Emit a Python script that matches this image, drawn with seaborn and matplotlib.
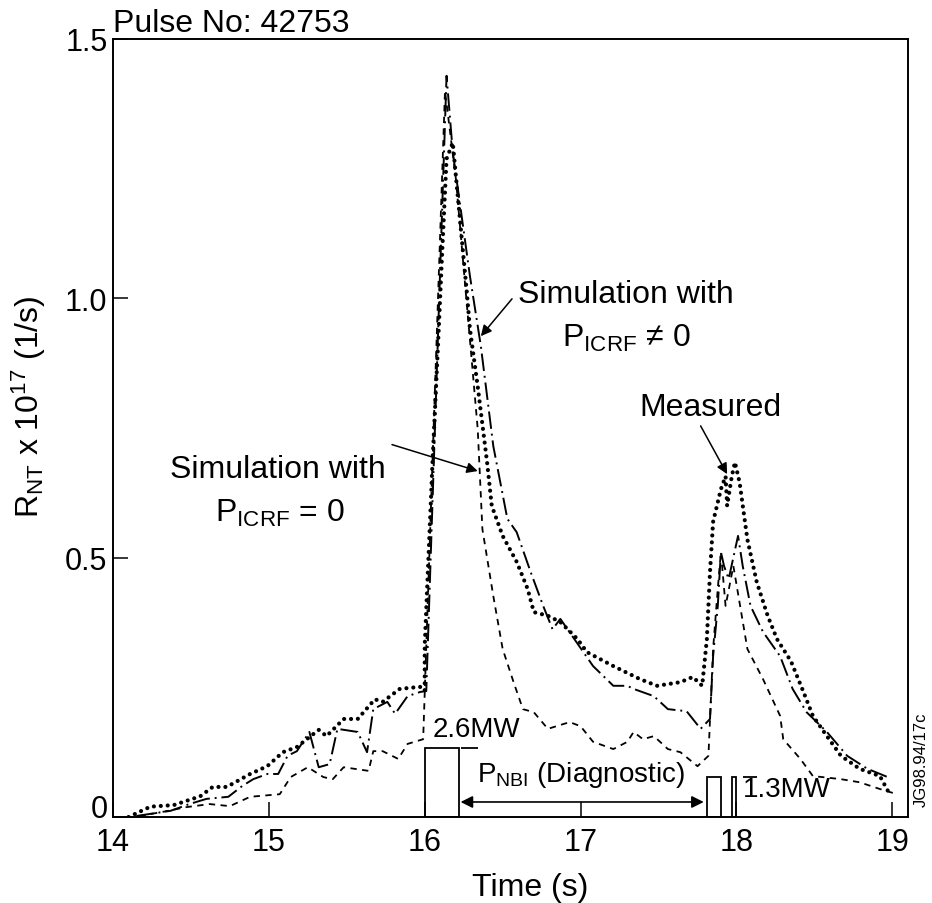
import matplotlib
matplotlib.use('Agg')
import matplotlib.pyplot as plt
import seaborn as sns

# Measured neutron rate (dotted)
meas_t = [14.10, 14.24, 14.39, 14.56, 14.64, 14.73, 14.88, 14.99, 15.09, 15.18,
          15.26, 15.32, 15.37, 15.48, 15.57, 15.68, 15.73, 15.84, 15.97, 16.00,
          16.00, 16.05, 16.09, 16.11, 16.14, 16.18, 16.23, 16.27, 16.29, 16.34,
          16.40, 16.43, 16.50, 16.59, 16.66, 16.70, 16.79, 16.87, 16.98, 17.04,
          17.21, 17.38, 17.49, 17.64, 17.72, 17.78, 17.81, 17.83, 17.85, 17.90,
          17.93, 17.94, 17.97, 17.99, 18.02, 18.07, 18.13, 18.20, 18.26, 18.35,
          18.43, 18.49, 18.58, 18.67, 18.79, 18.92, 18.99]
meas_v = [0.000, 0.020, 0.023, 0.040, 0.058, 0.058, 0.083, 0.098, 0.125, 0.135,
          0.154, 0.168, 0.156, 0.189, 0.189, 0.227, 0.222, 0.247, 0.251, 0.243,
          0.330, 0.684, 0.941, 1.076, 1.269, 1.300, 1.139, 1.012, 0.941, 0.830,
          0.684, 0.600, 0.542, 0.492, 0.440, 0.395, 0.388, 0.376, 0.343, 0.318,
          0.291, 0.266, 0.253, 0.260, 0.270, 0.253, 0.343, 0.472, 0.569, 0.632,
          0.657, 0.600, 0.657, 0.684, 0.645, 0.535, 0.453, 0.388, 0.343, 0.300,
          0.241, 0.195, 0.156, 0.118, 0.093, 0.079, 0.040]

# Simulation with P_ICRF != 0 (dash-dot)
icrf_t = [14.15, 14.37, 14.49, 14.60, 14.74, 14.83, 14.90, 14.99, 15.06, 15.12,
          15.18, 15.26, 15.32, 15.39, 15.44, 15.57, 15.63, 15.67, 15.76, 15.81,
          15.89, 15.97, 16.01, 16.14, 16.18, 16.29, 16.36, 16.44, 16.53, 16.59,
          16.68, 16.76, 16.82, 16.87, 17.08, 17.21, 17.30, 17.34, 17.47, 17.56,
          17.68, 17.77, 17.83, 17.85, 17.88, 17.90, 17.92, 17.95, 18.01, 18.04,
          18.09, 18.17, 18.28, 18.36, 18.45, 18.58, 18.71, 18.84, 18.97]
icrf_v = [0.002, 0.012, 0.025, 0.035, 0.039, 0.060, 0.073, 0.083, 0.083, 0.118,
          0.127, 0.164, 0.096, 0.102, 0.170, 0.164, 0.125, 0.208, 0.222, 0.199,
          0.233, 0.241, 0.243, 1.429, 1.282, 1.043, 0.908, 0.715, 0.575, 0.549,
          0.472, 0.407, 0.362, 0.382, 0.291, 0.253, 0.253, 0.247, 0.233, 0.208,
          0.204, 0.170, 0.189, 0.310, 0.407, 0.511, 0.484, 0.459, 0.542, 0.484,
          0.407, 0.357, 0.310, 0.247, 0.202, 0.164, 0.118, 0.093, 0.077]

# Simulation with P_ICRF = 0 (dashed)
noicrf_t = [14.17, 14.32, 14.47, 14.62, 14.75, 14.88, 15.07, 15.14, 15.25, 15.35,
            15.41, 15.48, 15.64, 15.67, 15.73, 15.83, 15.89, 15.99, 16.13, 16.20,
            16.29, 16.34, 16.37, 16.44, 16.50, 16.57, 16.63, 16.70, 16.79, 16.93,
            17.00, 17.08, 17.21, 17.30, 17.34, 17.40, 17.47, 17.56, 17.64, 17.75,
            17.82, 17.85, 17.88, 17.90, 17.93, 17.98, 18.07, 18.17, 18.28, 18.30,
            18.41, 18.49, 18.67, 18.79, 18.92, 19.03]
noicrf_v = [0.002, 0.010, 0.019, 0.025, 0.021, 0.039, 0.044, 0.077, 0.096, 0.077,
            0.073, 0.096, 0.089, 0.127, 0.127, 0.112, 0.141, 0.150, 1.400, 1.230,
            0.920, 0.748, 0.555, 0.426, 0.324, 0.260, 0.208, 0.202, 0.170, 0.183,
            0.175, 0.145, 0.131, 0.145, 0.164, 0.150, 0.156, 0.131, 0.125, 0.098,
            0.118, 0.324, 0.440, 0.511, 0.407, 0.484, 0.324, 0.266, 0.195, 0.150,
            0.112, 0.079, 0.073, 0.067, 0.054, 0.044]

# diagnostic NBI pulses
nbi_start = [16.00, 17.81, 17.97]
nbi_end = [16.22, 17.90, 18.00]
nbi_level = [0.133, 0.077, 0.077]

x_ticks = [14, 15, 16, 17, 18, 19]
y_ticks = [0, 0.5, 1.0, 1.5]
y_ticklabels = ['0', '0.5', '1.0', '1.5']

sns.set_theme(style='ticks')
plt.rcParams['font.family'] = ['Liberation Sans', 'DejaVu Sans']
plt.rcParams['mathtext.default'] = 'regular'
plt.rcParams['axes.linewidth'] = 1.4
for key in ['text.color', 'axes.labelcolor', 'xtick.color', 'ytick.color', 'axes.edgecolor']:
    plt.rcParams[key] = 'black'

fig = plt.figure(figsize=(9.32, 9.04), dpi=100)
ax = fig.add_axes([0.1212, 0.0951, 0.8530, 0.8607])

sns.lineplot(x=meas_t, y=meas_v, ax=ax, color='black', sort=False, estimator=None,
             linewidth=3.0, linestyle=(0, (0.01, 1.65)), dash_capstyle='round', legend=False)
sns.lineplot(x=icrf_t, y=icrf_v, ax=ax, color='black', sort=False, estimator=None,
             linewidth=1.4, linestyle=(0, (9, 2.5, 1, 2.5)), legend=False)
sns.lineplot(x=noicrf_t, y=noicrf_v, ax=ax, color='black', sort=False, estimator=None,
             linewidth=1.3, linestyle=(0, (3.5, 3)), legend=False)

# NBI blocks
widths = [e - s for s, e in zip(nbi_start, nbi_end)]
ax.bar(nbi_start, nbi_level, width=widths, align='edge', fill=False,
       edgecolor='black', linewidth=1.3)
ax.hlines(nbi_level[0], 16.23, 16.34, color='black', lw=1.3)
ax.hlines(nbi_level[2], 18.04, 18.13, color='black', lw=1.3)

ax.annotate('', xy=(17.79, 0.029), xytext=(16.23, 0.029),
            arrowprops=dict(arrowstyle='<|-|>', color='black', lw=1.2,
                            mutation_scale=18, shrinkA=0, shrinkB=0))

fs_small = 20
fs = 23
ax.text(16.05, 0.17, '2.6MW', fontsize=fs_small, ha='left', va='center')
ax.text(17.0, 0.082, r'P$_{NBI}$ (Diagnostic)', fontsize=fs_small, ha='center', va='center')
ax.text(18.04, 0.054, '1.3MW', fontsize=fs_small, ha='left', va='center')

ax.text(17.29, 1.008, 'Simulation with', fontsize=fs, ha='center', va='center')
ax.text(17.29, 0.925, r'P$_{ICRF}$ ≠ 0', fontsize=fs, ha='center', va='center')
ax.text(15.06, 0.671, 'Simulation with', fontsize=fs, ha='center', va='center')
ax.text(15.07, 0.588, r'P$_{ICRF}$ = 0', fontsize=fs, ha='center', va='center')
ax.text(17.83, 0.79, 'Measured', fontsize=fs, ha='center', va='center')

arrow = dict(arrowstyle='-|>', color='black', lw=1.1, mutation_scale=16,
             shrinkA=0, shrinkB=0)
ax.annotate('', xy=(16.36, 0.927), xytext=(16.56, 0.999), arrowprops=arrow)
ax.annotate('', xy=(16.34, 0.667), xytext=(15.79, 0.718), arrowprops=arrow)
ax.annotate('', xy=(17.94, 0.661), xytext=(17.77, 0.754), arrowprops=arrow)

ax.set_xlim(14, 19.1)
ax.set_ylim(0, 1.5)
ax.set_xticks(x_ticks)
ax.set_xticklabels([str(t) for t in x_ticks])
ax.set_yticks(y_ticks)
ax.set_yticklabels(y_ticklabels)
ax.tick_params(direction='in', length=11, width=1.1, labelsize=22, colors='black')
ax.tick_params(axis='x', pad=7)
ax.tick_params(axis='y', pad=4)
ax.get_yticklabels()[0].set_verticalalignment('baseline')
for sp in ax.spines.values():
    sp.set_visible(True)
    sp.set_color('black')

ax.set_xlabel('Time (s)', fontsize=fs)
ax.xaxis.set_label_coords(0.525, -0.071)
ax.set_ylabel(r'R$_{NT}$ x 10$^{17}$ (1/s)', fontsize=fs)
ax.yaxis.set_label_coords(-0.082, 0.529)

ax.text(0.0, 1.0103, 'Pulse No: 42753', transform=ax.transAxes, fontsize=fs,
        ha='left', va='baseline')
fig.text(0.989, 0.1073, 'JG98.94/17c', rotation=90, fontsize=12,
         ha='center', va='bottom')

fig.savefig('out.png', dpi=100)
